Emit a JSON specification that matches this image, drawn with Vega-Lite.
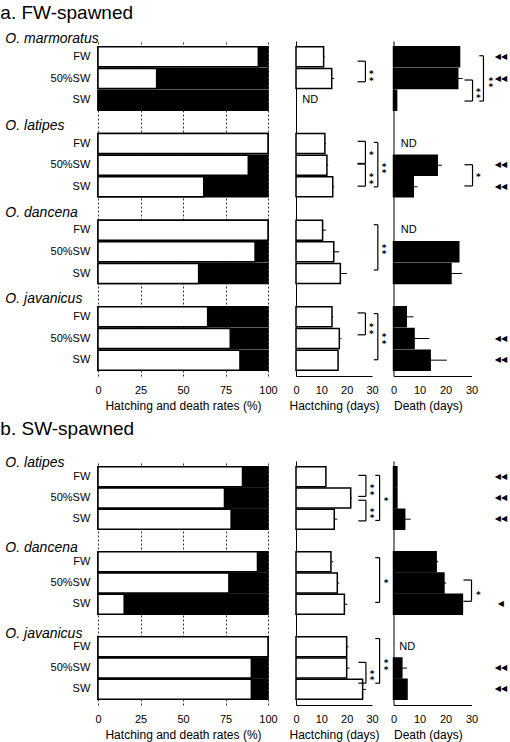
{
"$schema":"https://vega.github.io/schema/vega-lite/v6.json",
"padding":{"left":0,"top":4,"right":0,"bottom":10},
"config":{"font":"Liberation Sans","view":{"stroke":null},
 "axis":{"labelFont":"Liberation Sans","titleFont":"Liberation Sans","labelFontSize":11,"titleFontSize":12,"titleFontWeight":"normal","labelColor":"black","titleColor":"black","domainColor":"black","tickColor":"black"},
 "text":{"color":"black","fill":"black"}},
"datasets":{
 "rowsA":[
  {"species":"O. marmoratus","idx":0,"cond":"FW","hatchPct":94.3,"hd":10.9,"hdUp":11.4,"dd":25.4,"ddUp":null,"arrow":"◀◀"},
  {"species":"O. marmoratus","idx":1,"cond":"50%SW","hatchPct":34.5,"hd":14.1,"hdUp":15.1,"dd":24.7,"ddUp":26.6,"arrow":"◀◀"},
  {"species":"O. marmoratus","idx":2,"cond":"SW","hatchPct":0,"hd":null,"hdUp":null,"dd":1.2,"ddUp":null,"arrow":null},
  {"species":"O. latipes","idx":4,"cond":"FW","hatchPct":100,"hd":11.4,"hdUp":11.8,"dd":null,"ddUp":null,"arrow":null},
  {"species":"O. latipes","idx":5,"cond":"50%SW","hatchPct":88.4,"hd":12.2,"hdUp":12.7,"dd":16.8,"ddUp":18.6,"arrow":"◀◀"},
  {"species":"O. latipes","idx":6,"cond":"SW","hatchPct":62.2,"hd":14.5,"hdUp":15.1,"dd":7.6,"ddUp":9.3,"arrow":"◀◀"},
  {"species":"O. dancena","idx":8,"cond":"FW","hatchPct":100,"hd":10.5,"hdUp":11.8,"dd":null,"ddUp":null,"arrow":null},
  {"species":"O. dancena","idx":9,"cond":"50%SW","hatchPct":92.4,"hd":14.9,"hdUp":17.1,"dd":25.1,"ddUp":null,"arrow":null},
  {"species":"O. dancena","idx":10,"cond":"SW","hatchPct":59.2,"hd":17.5,"hdUp":20.1,"dd":22.1,"ddUp":26.3,"arrow":null},
  {"species":"O. javanicus","idx":12,"cond":"FW","hatchPct":64.5,"hd":14.2,"hdUp":14.7,"dd":4.9,"ddUp":7.7,"arrow":null},
  {"species":"O. javanicus","idx":13,"cond":"50%SW","hatchPct":77.8,"hd":17.1,"hdUp":17.9,"dd":7.9,"ddUp":13.8,"arrow":"◀◀"},
  {"species":"O. javanicus","idx":14,"cond":"SW","hatchPct":83.5,"hd":16.6,"hdUp":16.9,"dd":14.1,"ddUp":20.5,"arrow":"◀◀"}
 ],
 "rowsB":[
  {"species":"O. latipes","idx":0,"cond":"FW","hatchPct":85,"hd":11.8,"hdUp":null,"dd":1.3,"ddUp":null,"arrow":"◀◀"},
  {"species":"O. latipes","idx":1,"cond":"50%SW","hatchPct":74.4,"hd":21.6,"hdUp":22.1,"dd":1.3,"ddUp":null,"arrow":"◀◀"},
  {"species":"O. latipes","idx":2,"cond":"SW","hatchPct":78.3,"hd":15.1,"hdUp":16.3,"dd":4.3,"ddUp":6.6,"arrow":"◀◀"},
  {"species":"O. dancena","idx":4,"cond":"FW","hatchPct":93.8,"hd":13.8,"hdUp":14.7,"dd":16.4,"ddUp":17.2,"arrow":null},
  {"species":"O. dancena","idx":5,"cond":"50%SW","hatchPct":77,"hd":16.3,"hdUp":17.1,"dd":19.4,"ddUp":20.3,"arrow":null},
  {"species":"O. dancena","idx":6,"cond":"SW","hatchPct":15.4,"hd":19.1,"hdUp":20.3,"dd":26.5,"ddUp":null,"arrow":"◀"},
  {"species":"O. javanicus","idx":8,"cond":"FW","hatchPct":100,"hd":20.0,"hdUp":20.7,"dd":null,"ddUp":null,"arrow":null},
  {"species":"O. javanicus","idx":9,"cond":"50%SW","hatchPct":90.2,"hd":20.0,"hdUp":21.1,"dd":3.2,"ddUp":5.2,"arrow":"◀◀"},
  {"species":"O. javanicus","idx":10,"cond":"SW","hatchPct":90.2,"hd":26.3,"hdUp":27.6,"dd":5.2,"ddUp":null,"arrow":"◀◀"}
 ],
 "speciesA":[{"idx":-1,"name":"O. marmoratus"},{"idx":3,"name":"O. latipes"},{"idx":7,"name":"O. dancena"},{"idx":11,"name":"O. javanicus"}],
 "speciesB":[{"idx":-1,"name":"O. latipes"},{"idx":3,"name":"O. dancena"},{"idx":7,"name":"O. javanicus"}],
 "bracketsA":[
  {"panel":"h","from":0.2,"to":1.15,"mid":0.72,"level":1,"sig":"*\n*"},
  {"panel":"h","from":3.9,"to":4.92,"mid":4.45,"level":1,"sig":"*"},
  {"panel":"h","from":4.95,"to":5.97,"mid":5.47,"level":1,"sig":"*\n*"},
  {"panel":"h","from":3.95,"to":6.0,"mid":4.98,"level":2,"sig":"*\n*"},
  {"panel":"h","from":7.75,"to":9.84,"mid":8.71,"level":2,"sig":"*\n*"},
  {"panel":"h","from":11.82,"to":12.83,"mid":12.38,"level":1,"sig":"*\n*"},
  {"panel":"h","from":11.85,"to":13.98,"mid":12.85,"level":2,"sig":"*\n*"},
  {"panel":"d","from":-0.05,"to":2.04,"mid":1.02,"level":2,"sig":"*\n*"},
  {"panel":"d","from":1.07,"to":2.04,"mid":1.52,"level":1,"sig":"*\n*"},
  {"panel":"d","from":4.98,"to":5.96,"mid":5.47,"level":1,"sig":"*"}
 ],
 "bracketsB":[
  {"panel":"h","from":-0.06,"to":0.93,"mid":0.46,"level":1,"sig":"*\n*"},
  {"panel":"h","from":1.11,"to":2.08,"mid":1.56,"level":1,"sig":"*\n*"},
  {"panel":"h","from":-0.06,"to":2.06,"mid":1.03,"level":2,"sig":"*"},
  {"panel":"h","from":3.81,"to":5.91,"mid":4.89,"level":2,"sig":"*"},
  {"panel":"h","from":7.61,"to":9.71,"mid":8.69,"level":2,"sig":"*\n*"},
  {"panel":"h","from":8.73,"to":9.71,"mid":9.18,"level":1,"sig":"*\n*"},
  {"panel":"d","from":4.86,"to":5.86,"mid":5.46,"level":1,"sig":"*"}
 ]
},
"spacing":9,
"vconcat":[
 {
  "title":{"text":"a. FW-spawned","anchor":"start","fontSize":19,"fontWeight":"normal","font":"Liberation Sans","color":"black","dx":-5,"offset":9},
  "bounds":"flush","spacing":28,
  "hconcat":[
   {"width":170,"height":335,
    "layer":[
     {"data":{"name":"rowsA"},"mark":{"type":"bar","orient":"horizontal","size":20,"fill":"black","stroke":"black","strokeWidth":1.5},
      "encoding":{"y":{"field":"idx","type":"quantitative","scale":{"domain":[-0.5,14.5],"reverse":true,"nice":false,"zero":false},"axis":null},
       "x":{"datum":100,"type":"quantitative","scale":{"domain":[0,100],"nice":false},"axis":{"values":[0,25,50,75,100],"grid":true,"gridDash":[2,2],"gridColor":"#000","gridWidth":0.8,"domain":false,"ticks":false,"labelPadding":8,"labelFlush":false,"labelOverlap":false,"title":"Hatching and death rates (%)","titlePadding":5}}}},
     {"data":{"name":"rowsA"},"mark":{"type":"bar","orient":"horizontal","size":20,"fill":"white","stroke":"black","strokeWidth":1.5},
      "encoding":{"y":{"field":"idx","type":"quantitative"},"x":{"field":"hatchPct","type":"quantitative"}}},
     {"data":{"name":"rowsA"},"mark":{"type":"text","align":"right","baseline":"middle","fontSize":11,"fill":"black"},
      "encoding":{"y":{"field":"idx","type":"quantitative"},"x":{"datum":-4.5,"type":"quantitative"},"text":{"field":"cond"}}},
     {"data":{"name":"speciesA"},"mark":{"type":"text","align":"left","baseline":"middle","fontSize":14,"fontStyle":"italic","dy":4,"fill":"black"},
      "encoding":{"y":{"field":"idx","type":"quantitative"},"x":{"datum":-54.5,"type":"quantitative"},"text":{"field":"name"}}}
    ]},
   {"bounds":"flush","spacing":21.5,
    "hconcat":[
     {"width":76,"height":335,
      "layer":[
       {"data":{"name":"rowsA"},"transform":[{"filter":"isValid(datum.hd)"}],
        "mark":{"type":"bar","orient":"horizontal","size":20,"fill":"white","stroke":"black","strokeWidth":1.5},
        "encoding":{"y":{"field":"idx","type":"quantitative","scale":{"domain":[-0.5,14.5],"reverse":true,"nice":false,"zero":false},"axis":{"labels":false,"ticks":false,"grid":false,"domain":true,"title":null}},
         "x":{"field":"hd","type":"quantitative","scale":{"domain":[0,30],"nice":false},"axis":{"tickCount":4,"grid":false,"domain":true,"ticks":false,"labelPadding":8,"labelFlush":false,"labelOverlap":false,"title":"Hactching (days)","titlePadding":5}}}},
       {"data":{"name":"rowsA"},"transform":[{"filter":"isValid(datum.hdUp)"}],"mark":{"type":"rule","color":"black","strokeWidth":1},
        "encoding":{"y":{"field":"idx","type":"quantitative"},"x":{"field":"hd","type":"quantitative"},"x2":{"field":"hdUp"}}},
       {"data":{"name":"rowsA"},"transform":[{"filter":"!isValid(datum.hd)"}],"mark":{"type":"text","align":"left","baseline":"middle","fontSize":11,"fill":"black"},
        "encoding":{"y":{"field":"idx","type":"quantitative"},"x":{"datum":2.5,"type":"quantitative"},"text":{"value":"ND"}}},
       {"data":{"name":"bracketsA"},"transform":[{"filter":"datum.panel=='h' && datum.level==1"}],"mark":{"type":"rule","color":"black","strokeWidth":1.2},
        "encoding":{"x":{"datum":27.4,"type":"quantitative"},"y":{"field":"from","type":"quantitative"},"y2":{"field":"to"}}},
       {"data":{"name":"bracketsA"},"transform":[{"filter":"datum.panel=='h' && datum.level==1"},{"fold":["from","to"],"as":["end","yv"]}],"mark":{"type":"rule","color":"black","strokeWidth":1.2},
        "encoding":{"x":{"datum":24.3,"type":"quantitative"},"x2":{"datum":27.4},"y":{"field":"yv","type":"quantitative"}}},
       {"data":{"name":"bracketsA"},"transform":[{"filter":"datum.panel=='h' && datum.level==1"}],"mark":{"type":"text","lineBreak":"\n","lineHeight":6.5,"fontSize":9,"font":"DejaVu Sans","fontWeight":"bold","baseline":"middle","align":"center","dy":2,"fill":"black"},
        "encoding":{"x":{"datum":29.7,"type":"quantitative"},"y":{"field":"mid","type":"quantitative"},"text":{"field":"sig"}}},
       {"data":{"name":"bracketsA"},"transform":[{"filter":"datum.panel=='h' && datum.level==2"}],"mark":{"type":"rule","color":"black","strokeWidth":1.2},
        "encoding":{"x":{"datum":32.3,"type":"quantitative"},"y":{"field":"from","type":"quantitative"},"y2":{"field":"to"}}},
       {"data":{"name":"bracketsA"},"transform":[{"filter":"datum.panel=='h' && datum.level==2"},{"fold":["from","to"],"as":["end","yv"]}],"mark":{"type":"rule","color":"black","strokeWidth":1.2},
        "encoding":{"x":{"datum":30.7,"type":"quantitative"},"x2":{"datum":32.3},"y":{"field":"yv","type":"quantitative"}}},
       {"data":{"name":"bracketsA"},"transform":[{"filter":"datum.panel=='h' && datum.level==2"}],"mark":{"type":"text","lineBreak":"\n","lineHeight":6.5,"fontSize":9,"font":"DejaVu Sans","fontWeight":"bold","baseline":"middle","align":"center","dy":2,"fill":"black"},
        "encoding":{"x":{"datum":34.8,"type":"quantitative"},"y":{"field":"mid","type":"quantitative"},"text":{"field":"sig"}}}
      ]},
     {"width":78,"height":335,
      "layer":[
       {"data":{"name":"rowsA"},"transform":[{"filter":"isValid(datum.dd)"}],
        "mark":{"type":"bar","orient":"horizontal","size":20,"fill":"black","stroke":"black","strokeWidth":1.5},
        "encoding":{"y":{"field":"idx","type":"quantitative","scale":{"domain":[-0.5,14.5],"reverse":true,"nice":false,"zero":false},"axis":{"labels":false,"ticks":false,"grid":false,"domain":true,"title":null}},
         "x":{"field":"dd","type":"quantitative","scale":{"domain":[0,30],"nice":false},"axis":{"tickCount":4,"grid":false,"domain":true,"ticks":false,"labelPadding":8,"labelFlush":false,"labelOverlap":false,"title":"Death (days)","titleAnchor":"start","titlePadding":5}}}},
       {"data":{"name":"rowsA"},"transform":[{"filter":"isValid(datum.ddUp)"}],"mark":{"type":"rule","color":"black","strokeWidth":1},
        "encoding":{"y":{"field":"idx","type":"quantitative"},"x":{"field":"dd","type":"quantitative"},"x2":{"field":"ddUp"}}},
       {"data":{"name":"rowsA"},"transform":[{"filter":"!isValid(datum.dd)"}],"mark":{"type":"text","align":"left","baseline":"middle","fontSize":11,"fill":"black"},
        "encoding":{"y":{"field":"idx","type":"quantitative"},"x":{"datum":2.8,"type":"quantitative"},"text":{"value":"ND"}}},
       {"data":{"name":"rowsA"},"transform":[{"filter":"isValid(datum.arrow)"}],"mark":{"type":"text","align":"center","baseline":"middle","fontSize":8,"font":"DejaVu Sans","fill":"black"},
        "encoding":{"y":{"field":"idx","type":"quantitative"},"x":{"datum":41.3,"type":"quantitative"},"text":{"field":"arrow"}}},
       {"data":{"name":"bracketsA"},"transform":[{"filter":"datum.panel=='d' && datum.level==1"}],"mark":{"type":"rule","color":"black","strokeWidth":1.2},
        "encoding":{"x":{"datum":30.4,"type":"quantitative"},"y":{"field":"from","type":"quantitative"},"y2":{"field":"to"}}},
       {"data":{"name":"bracketsA"},"transform":[{"filter":"datum.panel=='d' && datum.level==1"},{"fold":["from","to"],"as":["end","yv"]}],"mark":{"type":"rule","color":"black","strokeWidth":1.2},
        "encoding":{"x":{"datum":27.3,"type":"quantitative"},"x2":{"datum":30.4},"y":{"field":"yv","type":"quantitative"}}},
       {"data":{"name":"bracketsA"},"transform":[{"filter":"datum.panel=='d' && datum.level==1"}],"mark":{"type":"text","lineBreak":"\n","lineHeight":6.5,"fontSize":9,"font":"DejaVu Sans","fontWeight":"bold","baseline":"middle","align":"center","dy":2,"fill":"black"},
        "encoding":{"x":{"datum":32.6,"type":"quantitative"},"y":{"field":"mid","type":"quantitative"},"text":{"field":"sig"}}},
       {"data":{"name":"bracketsA"},"transform":[{"filter":"datum.panel=='d' && datum.level==2"}],"mark":{"type":"rule","color":"black","strokeWidth":1.2},
        "encoding":{"x":{"datum":34.6,"type":"quantitative"},"y":{"field":"from","type":"quantitative"},"y2":{"field":"to"}}},
       {"data":{"name":"bracketsA"},"transform":[{"filter":"datum.panel=='d' && datum.level==2"},{"fold":["from","to"],"as":["end","yv"]}],"mark":{"type":"rule","color":"black","strokeWidth":1.2},
        "encoding":{"x":{"datum":33.0,"type":"quantitative"},"x2":{"datum":34.6},"y":{"field":"yv","type":"quantitative"}}},
       {"data":{"name":"bracketsA"},"transform":[{"filter":"datum.panel=='d' && datum.level==2"}],"mark":{"type":"text","lineBreak":"\n","lineHeight":6.5,"fontSize":9,"font":"DejaVu Sans","fontWeight":"bold","baseline":"middle","align":"center","dy":2,"fill":"black"},
        "encoding":{"x":{"datum":37.4,"type":"quantitative"},"y":{"field":"mid","type":"quantitative"},"text":{"field":"sig"}}}
      ]}
    ]}
  ]
 },
 {
  "title":{"text":"b. SW-spawned","anchor":"start","fontSize":19,"fontWeight":"normal","font":"Liberation Sans","color":"black","dx":-5,"offset":17},
  "bounds":"flush","spacing":28,
  "hconcat":[
   {"width":170,"height":244,
    "layer":[
     {"data":{"name":"rowsB"},"mark":{"type":"bar","orient":"horizontal","size":20,"fill":"black","stroke":"black","strokeWidth":1.5},
      "encoding":{"y":{"field":"idx","type":"quantitative","scale":{"domain":[-0.5,10.5],"reverse":true,"nice":false,"zero":false},"axis":null},
       "x":{"datum":100,"type":"quantitative","scale":{"domain":[0,100],"nice":false},"axis":{"values":[0,25,50,75,100],"grid":true,"gridDash":[2,2],"gridColor":"#000","gridWidth":0.8,"domain":false,"ticks":false,"labelPadding":8,"labelFlush":false,"labelOverlap":false,"title":"Hatching and death rates (%)","titlePadding":5}}}},
     {"data":{"name":"rowsB"},"mark":{"type":"bar","orient":"horizontal","size":20,"fill":"white","stroke":"black","strokeWidth":1.5},
      "encoding":{"y":{"field":"idx","type":"quantitative"},"x":{"field":"hatchPct","type":"quantitative"}}},
     {"data":{"name":"rowsB"},"mark":{"type":"text","align":"right","baseline":"middle","fontSize":11,"fill":"black"},
      "encoding":{"y":{"field":"idx","type":"quantitative"},"x":{"datum":-4.5,"type":"quantitative"},"text":{"field":"cond"}}},
     {"data":{"name":"speciesB"},"mark":{"type":"text","align":"left","baseline":"middle","fontSize":14,"fontStyle":"italic","dy":8,"fill":"black"},
      "encoding":{"y":{"field":"idx","type":"quantitative"},"x":{"datum":-54.5,"type":"quantitative"},"text":{"field":"name"}}}
    ]},
   {"bounds":"flush","spacing":21.5,
    "hconcat":[
     {"width":76,"height":244,
      "layer":[
       {"data":{"name":"rowsB"},"transform":[{"filter":"isValid(datum.hd)"}],
        "mark":{"type":"bar","orient":"horizontal","size":20,"fill":"white","stroke":"black","strokeWidth":1.5},
        "encoding":{"y":{"field":"idx","type":"quantitative","scale":{"domain":[-0.5,10.5],"reverse":true,"nice":false,"zero":false},"axis":{"labels":false,"ticks":false,"grid":false,"domain":true,"title":null}},
         "x":{"field":"hd","type":"quantitative","scale":{"domain":[0,30],"nice":false},"axis":{"tickCount":4,"grid":false,"domain":true,"ticks":false,"labelPadding":8,"labelFlush":false,"labelOverlap":false,"title":"Hactching (days)","titlePadding":5}}}},
       {"data":{"name":"rowsB"},"transform":[{"filter":"isValid(datum.hdUp)"}],"mark":{"type":"rule","color":"black","strokeWidth":1},
        "encoding":{"y":{"field":"idx","type":"quantitative"},"x":{"field":"hd","type":"quantitative"},"x2":{"field":"hdUp"}}},
       {"data":{"name":"bracketsB"},"transform":[{"filter":"datum.panel=='h' && datum.level==1"}],"mark":{"type":"rule","color":"black","strokeWidth":1.2},
        "encoding":{"x":{"datum":27.6,"type":"quantitative"},"y":{"field":"from","type":"quantitative"},"y2":{"field":"to"}}},
       {"data":{"name":"bracketsB"},"transform":[{"filter":"datum.panel=='h' && datum.level==1"},{"fold":["from","to"],"as":["end","yv"]}],"mark":{"type":"rule","color":"black","strokeWidth":1.2},
        "encoding":{"x":{"datum":24.6,"type":"quantitative"},"x2":{"datum":27.6},"y":{"field":"yv","type":"quantitative"}}},
       {"data":{"name":"bracketsB"},"transform":[{"filter":"datum.panel=='h' && datum.level==1"}],"mark":{"type":"text","lineBreak":"\n","lineHeight":6.5,"fontSize":9,"font":"DejaVu Sans","fontWeight":"bold","baseline":"middle","align":"center","dy":2,"fill":"black"},
        "encoding":{"x":{"datum":30.0,"type":"quantitative"},"y":{"field":"mid","type":"quantitative"},"text":{"field":"sig"}}},
       {"data":{"name":"bracketsB"},"transform":[{"filter":"datum.panel=='h' && datum.level==2"}],"mark":{"type":"rule","color":"black","strokeWidth":1.2},
        "encoding":{"x":{"datum":33.0,"type":"quantitative"},"y":{"field":"from","type":"quantitative"},"y2":{"field":"to"}}},
       {"data":{"name":"bracketsB"},"transform":[{"filter":"datum.panel=='h' && datum.level==2"},{"fold":["from","to"],"as":["end","yv"]}],"mark":{"type":"rule","color":"black","strokeWidth":1.2},
        "encoding":{"x":{"datum":31.3,"type":"quantitative"},"x2":{"datum":33.0},"y":{"field":"yv","type":"quantitative"}}},
       {"data":{"name":"bracketsB"},"transform":[{"filter":"datum.panel=='h' && datum.level==2"}],"mark":{"type":"text","lineBreak":"\n","lineHeight":6.5,"fontSize":9,"font":"DejaVu Sans","fontWeight":"bold","baseline":"middle","align":"center","dy":2,"fill":"black"},
        "encoding":{"x":{"datum":35.6,"type":"quantitative"},"y":{"field":"mid","type":"quantitative"},"text":{"field":"sig"}}}
      ]},
     {"width":78,"height":244,
      "layer":[
       {"data":{"name":"rowsB"},"transform":[{"filter":"isValid(datum.dd)"}],
        "mark":{"type":"bar","orient":"horizontal","size":20,"fill":"black","stroke":"black","strokeWidth":1.5},
        "encoding":{"y":{"field":"idx","type":"quantitative","scale":{"domain":[-0.5,10.5],"reverse":true,"nice":false,"zero":false},"axis":{"labels":false,"ticks":false,"grid":false,"domain":true,"title":null}},
         "x":{"field":"dd","type":"quantitative","scale":{"domain":[0,30],"nice":false},"axis":{"tickCount":4,"grid":false,"domain":true,"ticks":false,"labelPadding":8,"labelFlush":false,"labelOverlap":false,"title":"Death (days)","titleAnchor":"start","titlePadding":5}}}},
       {"data":{"name":"rowsB"},"transform":[{"filter":"isValid(datum.ddUp)"}],"mark":{"type":"rule","color":"black","strokeWidth":1},
        "encoding":{"y":{"field":"idx","type":"quantitative"},"x":{"field":"dd","type":"quantitative"},"x2":{"field":"ddUp"}}},
       {"data":{"name":"rowsB"},"transform":[{"filter":"!isValid(datum.dd)"}],"mark":{"type":"text","align":"left","baseline":"middle","fontSize":11,"fill":"black"},
        "encoding":{"y":{"field":"idx","type":"quantitative"},"x":{"datum":2.2,"type":"quantitative"},"text":{"value":"ND"}}},
       {"data":{"name":"rowsB"},"transform":[{"filter":"isValid(datum.arrow)"}],"mark":{"type":"text","align":"center","baseline":"middle","fontSize":8,"font":"DejaVu Sans","fill":"black"},
        "encoding":{"y":{"field":"idx","type":"quantitative"},"x":{"datum":41.3,"type":"quantitative"},"text":{"field":"arrow"}}},
       {"data":{"name":"bracketsB"},"transform":[{"filter":"datum.panel=='d' && datum.level==1"}],"mark":{"type":"rule","color":"black","strokeWidth":1.2},
        "encoding":{"x":{"datum":30.0,"type":"quantitative"},"y":{"field":"from","type":"quantitative"},"y2":{"field":"to"}}},
       {"data":{"name":"bracketsB"},"transform":[{"filter":"datum.panel=='d' && datum.level==1"},{"fold":["from","to"],"as":["end","yv"]}],"mark":{"type":"rule","color":"black","strokeWidth":1.2},
        "encoding":{"x":{"datum":26.9,"type":"quantitative"},"x2":{"datum":30.0},"y":{"field":"yv","type":"quantitative"}}},
       {"data":{"name":"bracketsB"},"transform":[{"filter":"datum.panel=='d' && datum.level==1"}],"mark":{"type":"text","lineBreak":"\n","lineHeight":6.5,"fontSize":9,"font":"DejaVu Sans","fontWeight":"bold","baseline":"middle","align":"center","dy":2,"fill":"black"},
        "encoding":{"x":{"datum":32.6,"type":"quantitative"},"y":{"field":"mid","type":"quantitative"},"text":{"field":"sig"}}}
      ]}
    ]}
  ]
 }
]
}
